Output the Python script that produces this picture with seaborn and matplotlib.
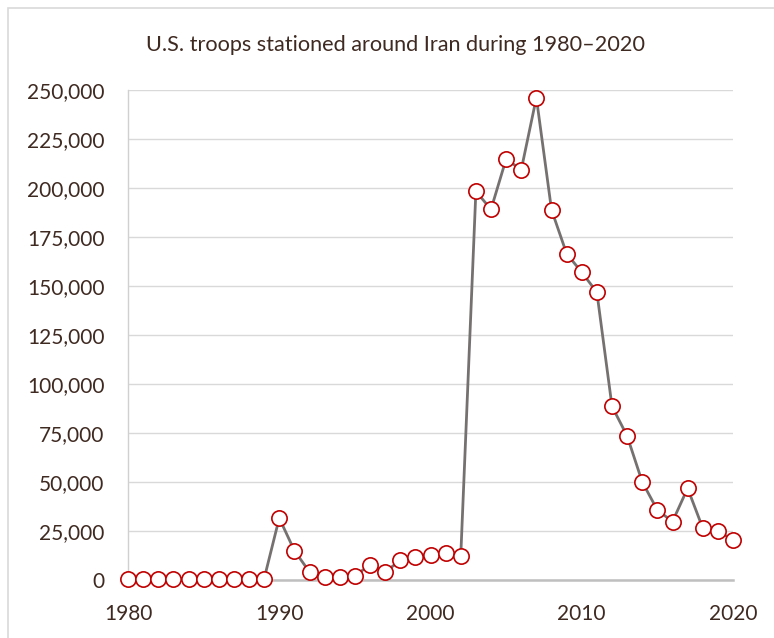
import matplotlib
matplotlib.use("Agg")
import matplotlib.pyplot as plt
from matplotlib.patches import Rectangle
from matplotlib.ticker import FuncFormatter
import seaborn as sns
import pandas as pd

# values
years = list(range(1980, 2021))
troops = [600, 600, 600, 600, 600, 600, 600, 600, 600, 600,
          31600, 15000, 4100, 1400, 1300, 2200, 7700, 4100, 10000, 11800,
          13000, 13800, 12100, 198300, 189100, 214800, 209300, 246100, 188900, 166500,
          157000, 146800, 88600, 73500, 50000, 35700, 29800, 46800, 26500, 25000,
          20400]
title = "U.S. troops stationed around Iran during 1980\u20132020"

df = pd.DataFrame({"year": years, "troops": troops})

sns.set_style("white")
plt.rcParams["font.family"] = ["Lato", "DejaVu Sans"]
text_col = "#3f2a22"

fig = plt.figure(figsize=(7.74, 6.38), dpi=100)
ax = fig.add_axes([128 / 774, 1 - 580 / 638, (733 - 128) / 774, (580 - 90) / 638])

# light frame around the chart area
fig.patches.append(Rectangle((8 / 774, -0.1), 1.2, 1 - 8 / 638 + 0.1,
                             transform=fig.transFigure, fill=False,
                             edgecolor="#d9d9d9", linewidth=1.2))

sns.lineplot(data=df, x="year", y="troops", ax=ax, color="#767171", linewidth=2.0,
             marker="o", markersize=11, markerfacecolor="white",
             markeredgecolor="#c00000", markeredgewidth=1.2, clip_on=False, zorder=3)

ax.set_xlim(1980, 2020)
ax.set_ylim(0, 250000)
ax.set_xticks(range(1980, 2021, 10))
ax.set_yticks(range(0, 250001, 25000))
ax.yaxis.set_major_formatter(FuncFormatter(lambda v, p: f"{int(v):,}"))
ax.grid(axis="y", color="#d9d9d9", linewidth=1.0)
ax.set_axisbelow(True)
ax.set_xlabel("")
ax.set_ylabel("")

for s in ["top", "right"]:
    ax.spines[s].set_visible(False)
ax.spines["left"].set_color("#d0d0d0")
ax.spines["left"].set_linewidth(1.0)
ax.spines["bottom"].set_color("#bfbfbf")
ax.spines["bottom"].set_linewidth(1.8)

ax.tick_params(axis="both", length=0, labelsize=15, labelcolor=text_col)
ax.tick_params(axis="y", pad=17)
ax.tick_params(axis="x", pad=17)

fig.text(395 / 774, 1 - 45 / 638, title, ha="center", va="center",
         fontsize=15.6, color=text_col)

fig.savefig("out.png", dpi=100)
